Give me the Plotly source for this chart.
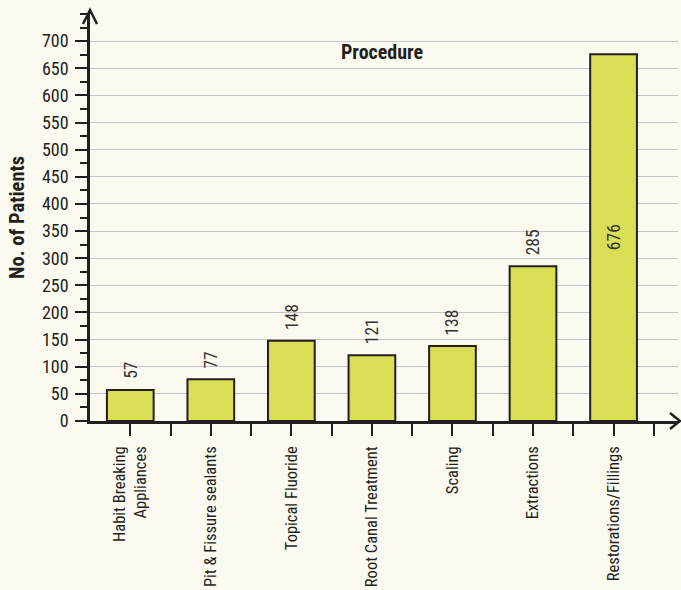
import plotly.graph_objects as go

categories = ["Habit Breaking<br>Appliances", "Pit & Fissure sealants", "Topical Fluoride",
              "Root Canal Treatment", "Scaling", "Extractions", "Restorations/Fillings"]
patients = [57, 77, 148, 121, 138, 285, 676]
label_inside = [False, False, False, False, False, False, True]
y_ticks = list(range(0, 701, 50))

FONT = "Liberation Sans Narrow, Roboto Condensed, Arial Narrow, Roboto, sans-serif"
BG = "#fbf9f0"
INK = "#231f20"
xs = list(range(len(categories)))

W, H = 681, 590
ML, MR, MT, MB = 90, 3, 14, 161
PW, PH = W - ML - MR, H - MT - MB

fig = go.Figure()
fig.add_trace(go.Bar(
    x=xs, y=patients, width=0.58,
    marker=dict(color="#d9de55", line=dict(color=INK, width=2)),
    hoverinfo="skip",
))

annotations = []
for x, v, inside in zip(xs, patients, label_inside):
    if inside:
        annotations.append(dict(x=x, y=v / 2, xref="x", yref="y", text=str(v), textangle=-90,
                                showarrow=False, xanchor="center", yanchor="middle",
                                font=dict(family=FONT, size=17.5, color="#333333")))
    else:
        annotations.append(dict(x=x, y=v, xref="x", yref="y", text=str(v), textangle=-90,
                                showarrow=False, xanchor="center", yanchor="bottom", yshift=9,
                                font=dict(family=FONT, size=17.5, color="#333333")))

annotations.append(dict(x=(382 - ML) / PW, y=(H - MB - 53) / PH, xref="paper", yref="paper",
                        xanchor="center", yanchor="middle", text="<b>Procedure</b>",
                        showarrow=False, font=dict(family=FONT, size=20, color=INK)))

fig.update_layout(
    width=W, height=H,
    margin=dict(l=ML, r=MR, t=MT, b=MB),
    paper_bgcolor=BG, plot_bgcolor=BG,
    showlegend=False,
    font=dict(family=FONT, size=16, color=INK),
    annotations=annotations,
    xaxis=dict(
        range=[-0.5, 6.8], tickmode="array", tickvals=xs, ticktext=categories,
        tickangle=-90, ticks="outside", ticklen=12, tickwidth=1.5, tickcolor=INK,
        showline=True, linewidth=2.5, linecolor=INK, showgrid=False, zeroline=False,
        ticklabelstandoff=4,
        minor=dict(tickmode="array", tickvals=[i + 0.5 for i in xs], ticks="outside",
                   ticklen=12, tickwidth=1.5, tickcolor=INK, showgrid=False),
        tickfont=dict(family=FONT, size=16.5, color=INK),
    ),
    yaxis=dict(
        range=[0, 750], tickmode="array", tickvals=y_ticks,
        ticks="outside", ticklen=12, tickwidth=1.5, tickcolor=INK,
        showline=True, linewidth=2.5, linecolor=INK,
        showgrid=True, gridcolor="#c4c5cc", gridwidth=1.2, zeroline=False,
        ticklabelstandoff=3,
        minor=dict(dtick=25, tick0=0, ticks="outside", ticklen=7, tickwidth=1.5,
                   tickcolor=INK, showgrid=False),
        title=dict(text="<b>No. of Patients</b>", font=dict(family=FONT, size=20.5, color=INK),
                   standoff=12),
        tickfont=dict(family=FONT, size=18, color=INK),
    ),
    shapes=[
        dict(type="path", xref="paper", yref="paper", xsizemode="pixel", ysizemode="pixel",
             xanchor=0, yanchor=1, path="M 0,0 L 0,3 M -7,-10 L 0,4 L 7,-10",
             line=dict(color=INK, width=2.5)),
        dict(type="path", xref="paper", yref="paper", xsizemode="pixel", ysizemode="pixel",
             xanchor=1, yanchor=0, path="M -8,8 L 2,0 L -8,-8",
             line=dict(color=INK, width=2.5)),
    ],
)

fig.write_html("out.html", config={"displayModeBar": False},
               post_script="document.body.style.margin='0';document.body.style.overflow='hidden';")
